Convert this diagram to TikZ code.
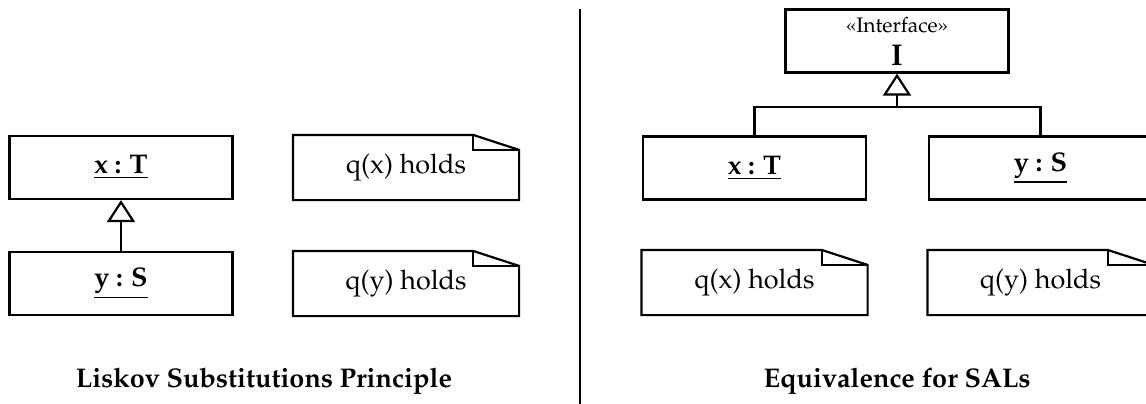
\documentclass[tikz,border=0pt]{standalone}
\usepackage[T1]{fontenc}
\usepackage{mathpazo}
\usetikzlibrary{arrows.meta}

\begin{document}
\begin{tikzpicture}[x=0.5pt, y=-0.5pt, line width=1.1pt, every node/.style={inner sep=0},
    obj/.style={rectangle, draw, minimum width=111.5pt, minimum height=31.5pt, font=\fontsize{13.5}{16}\selectfont\bfseries},
    note/.style={rectangle, minimum width=112pt, minimum height=31.5pt, font=\fontsize{13.5}{16}\selectfont},
    inherit/.style={-{Triangle[open, length=11pt, width=14pt]}}]
    \clip (0,0) rectangle (1146,403);

    % left half
    \draw(121, 167.5) node [obj](xTl){\underline{x : T}};
    \draw(121, 283.5) node [obj](ySl){\underline{y : S}};
    \draw(406, 167.5) node [note](qxl){q(x) holds};
    \draw(406, 283.5) node [note](qyl){q(y) holds};

    \draw[inherit] (ySl) -- (xTl);

    \draw(264, 381) node [font=\fontsize{13.5}{16}\selectfont\bfseries](lsp){Liskov Substitutions Principle};

    % divider
    \draw(580, 9) coordinate (top) -- (580, 410) coordinate (bot);

    % right half
    \draw(897, 41) node [obj](I){};
    \draw(897, 25) node [font=\fontsize{10.5}{12}\selectfont](stereo){\guillemotleft Interface\guillemotright};
    \draw(897, 56) node [font=\fontsize{15}{16}\selectfont\bfseries](Iname){I};
    \draw(754.5, 168) node [obj](xTr){\underline{x : T}};
    \draw(1040.5, 168) node [obj](ySr){\underline{y : S}};
    \draw(754.5, 282.5) node [note](qxr){q(x) holds};
    \draw(1040.5, 282.5) node [note](qyr){q(y) holds};

    \coordinate (hub) at (897, 107);
    \draw (xTr.north) |- (hub) -| (ySr.north);
    \draw[inherit] (hub) -- (I);

    \draw(897, 381) node [font=\fontsize{13.5}{16}\selectfont\bfseries](sal){Equivalence for SALs};

    % dog-eared outlines of the notes
    \foreach \n in {qxl, qyl, qxr, qyr} {
        \draw (\n.north west) -- ([xshift=-23pt]\n.north east) -- ([yshift=-7.5pt]\n.north east)
            -- (\n.south east) -- (\n.south west) -- cycle;
        \draw[line width=0.9pt] ([xshift=-23pt]\n.north east) -- ([xshift=-23pt, yshift=-7.5pt]\n.north east)
            -- ([yshift=-7.5pt]\n.north east);
    }
\end{tikzpicture}
\end{document}
